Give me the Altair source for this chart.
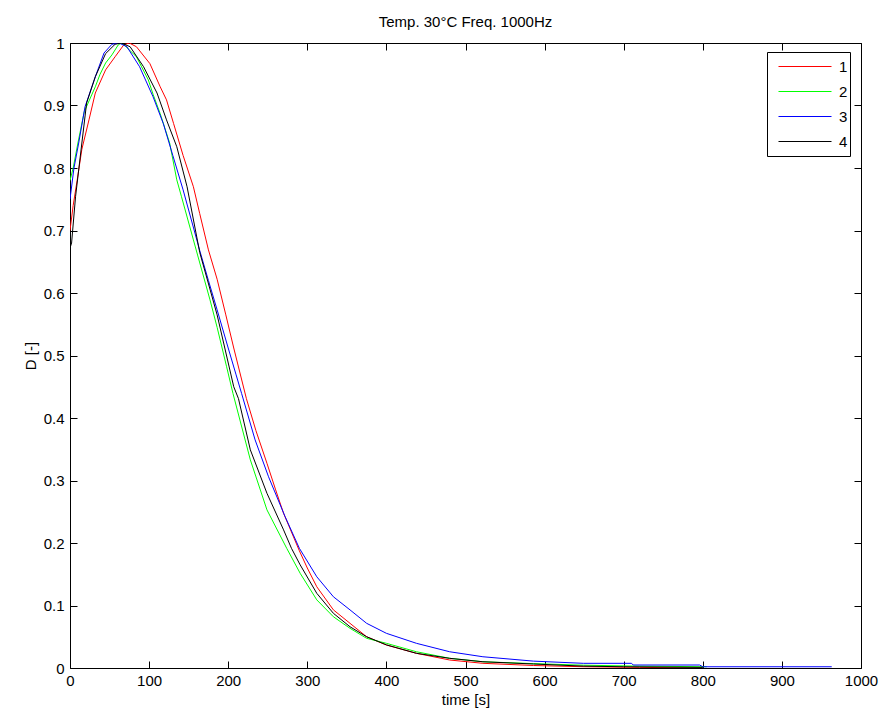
import altair as alt
import pandas as pd

FONT = "Liberation Sans"

series_names = ["1", "2", "3", "4"]
series_colors = ["#FF0000", "#00FF00", "#0000FF", "#000000"]

# series 1 (red)
t1 = [0, 4, 9, 15, 24, 32, 45, 57, 68, 75, 84, 101, 114, 122, 131, 143, 156, 164, 175, 186, 197, 207,
      223, 235, 249, 260, 270, 290, 300, 312, 333, 354, 375, 400, 438, 480, 522, 586, 650, 720, 800]
d1 = [0.70, 0.74, 0.78, 0.83, 0.877, 0.92, 0.957, 0.978, 0.997, 1.0, 0.994, 0.967, 0.93, 0.909, 0.871,
      0.82, 0.77, 0.727, 0.669, 0.622, 0.565, 0.512, 0.431, 0.38, 0.3275, 0.285, 0.2475, 0.1875, 0.16,
      0.13, 0.093, 0.0715, 0.05, 0.0368, 0.0235, 0.0128, 0.0075, 0.004, 0.002, 0.001, 0.0]

# series 2 (green)
t2 = [0, 4, 10, 18, 32, 38, 45, 53, 61, 65, 70, 84, 99, 105, 114, 126, 135, 141, 156, 177, 186, 198,
      206, 228, 249, 274, 291, 312, 333, 354, 375, 400, 438, 480, 522, 586, 649, 720, 805]
d2 = [0.78, 0.80, 0.84, 0.89, 0.93, 0.95, 0.968, 0.981, 0.997, 1.0, 0.995, 0.978, 0.941, 0.918, 0.887,
      0.84, 0.781, 0.754, 0.685, 0.589, 0.545, 0.482, 0.4395, 0.333, 0.253, 0.1915, 0.1515, 0.109,
      0.082, 0.0635, 0.0475, 0.0395, 0.026, 0.0155, 0.01, 0.007, 0.0045, 0.003, 0.002]

# series 3 (blue)
t3 = [0, 5, 11, 19, 32, 43, 53, 62, 72, 88, 105, 118, 130, 143, 164, 175, 186, 200, 210, 217, 234, 251,
      272, 290, 312, 333, 354, 375, 400, 438, 480, 522, 586, 649, 710, 712, 796, 800, 963]
d3 = [0.75, 0.80, 0.84, 0.898, 0.946, 0.984, 0.998, 1.0, 0.994, 0.962, 0.914, 0.871, 0.82, 0.765,
      0.668, 0.62, 0.573, 0.512, 0.469, 0.439, 0.365, 0.306, 0.242, 0.1915, 0.146, 0.114, 0.093,
      0.0715, 0.0555, 0.0395, 0.026, 0.018, 0.011, 0.0075, 0.0075, 0.0048, 0.0048, 0.002, 0.002]

# series 4 (black)
t4 = [0, 2, 7, 15, 21, 32, 45, 57, 65, 76, 93, 110, 122, 135, 148, 164, 186, 207, 213, 228, 249, 270,
      280, 291, 312, 333, 354, 375, 400, 438, 480, 522, 586, 649, 700, 800]
d4 = [0.672, 0.68, 0.754, 0.84, 0.904, 0.946, 0.983, 0.998, 1.0, 0.994, 0.962, 0.92, 0.877, 0.834,
      0.77, 0.665, 0.565, 0.45, 0.431, 0.349, 0.2795, 0.221, 0.1915, 0.165, 0.1195, 0.0875, 0.066,
      0.05, 0.037, 0.0235, 0.0155, 0.01, 0.0064, 0.003, 0.002, 0.001]

x_ticks = [0, 100, 200, 300, 400, 500, 600, 700, 800, 900, 1000]
y_ticks = [0, 0.1, 0.2, 0.3, 0.4, 0.5, 0.6, 0.7, 0.8, 0.9, 1]

rows = []
for name, ts, ds in zip(series_names, [t1, t2, t3, t4], [d1, d2, d3, d4]):
    for t, d in zip(ts, ds):
        rows.append({"series": name, "time": t, "D": d})
df = pd.DataFrame(rows)

xs = alt.Scale(domain=[0, 1000], nice=False, zero=False)
ys = alt.Scale(domain=[0, 1], nice=False, zero=False)

base = alt.Chart(df)

lines = base.mark_line(strokeWidth=1, clip=True).encode(
    x=alt.X("time:Q", scale=xs,
            axis=alt.Axis(values=x_ticks, title="time [s]", orient="bottom", offset=-7, tickSize=7,
                          domain=False, grid=False, labelPadding=5, titlePadding=4, format="d",
                          labelFlush=False)),
    y=alt.Y("D:Q", scale=ys,
            axis=alt.Axis(values=y_ticks, title="D [-]", orient="left", offset=-7, tickSize=7,
                          domain=False, grid=False, labelPadding=6, titlePadding=5, format="~g",
                          labelFlush=False)),
    color=alt.Color("series:N",
                    scale=alt.Scale(domain=series_names, range=series_colors),
                    legend=alt.Legend(title=None, orient="none", legendX=697, legendY=9,
                                      symbolType="stroke", symbolSize=2809, symbolStrokeWidth=1,
                                      symbolOpacity=1,
                                      clipHeight=25, rowPadding=0, padding=2, symbolOffset=9,
                                      labelOffset=7, strokeColor="black", fillColor="white",
                                      labelFont=FONT, labelFontSize=15, labelColor="black",
                                      cornerRadius=0)),
)

mirror = base.mark_line(opacity=0).encode(
    x=alt.X("time:Q", scale=xs,
            axis=alt.Axis(values=x_ticks, orient="top", offset=-7, tickSize=7, domain=False,
                          labels=False, title=None, grid=False)),
    y=alt.Y("D:Q", scale=ys,
            axis=alt.Axis(values=y_ticks, orient="right", offset=-7, tickSize=7, domain=False,
                          labels=False, title=None, grid=False)),
    detail="series:N",
)

chart = (
    alt.layer(lines, mirror)
    .resolve_axis(x="independent", y="independent")
    .properties(
        width=791, height=625,
        title=alt.TitleParams("Temp. 30°C Freq. 1000Hz", anchor="middle", frame="group", offset=6),
        autosize=alt.AutoSizeParams(type="none"),
        padding={"left": 70, "top": 43, "right": 24, "bottom": 48},
    )
    .configure_view(stroke="black", strokeWidth=1)
    .configure_axis(labelFont=FONT, titleFont=FONT, labelFontSize=15, titleFontSize=15,
                    labelColor="black", titleColor="black", tickColor="black",
                    titleFontWeight="normal")
    .configure_title(font=FONT, fontSize=15, fontWeight="normal", color="black")
)

chart.save("out.html", embed_options={"renderer": "svg", "actions": False})
